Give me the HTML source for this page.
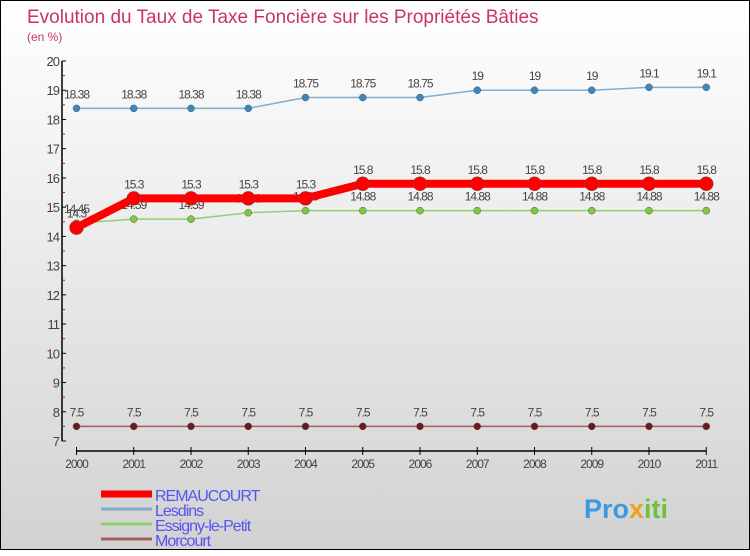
<!DOCTYPE html>
<html><head><meta charset="utf-8"><style>
body{margin:0;width:750px;height:550px;overflow:hidden;font-family:"Liberation Sans",sans-serif}
#frame{position:absolute;left:0;top:0;width:748px;height:548px;border:1px solid #000;background:linear-gradient(#ffffff,#d2d2d2)}
</style></head><body>
<div id="frame">
<svg id="chart" width="750" height="550">
<text x="26" y="22" font-size="19" fill="#c8336e">Evolution du Taux de Taxe Foncière sur les Propriétés Bâties</text>
<text x="26" y="40" font-size="12" fill="#c8336e">(en %)</text>
<g id="axes"></g><g id="series"></g><g id="legend"></g>
<text x="583" y="517" font-size="27" font-weight="bold" fill="#3a9be0">Pro<tspan fill="#f0a020">x</tspan><tspan fill="#70c040">iti</tspan></text>
</svg></div>
<script>
const years=["2000","2001","2002","2003","2004","2005","2006","2007","2008","2009","2010","2011"];
const yTicks=[7,8,9,10,11,12,13,14,15,16,17,18,19,20];
const remaucourt=[14.3,15.3,15.3,15.3,15.3,15.8,15.8,15.8,15.8,15.8,15.8,15.8];
const lesdins=[18.38,18.38,18.38,18.38,18.75,18.75,18.75,19,19,19,19.1,19.1];
const essigny=[14.45,14.59,14.59,14.81,14.88,14.88,14.88,14.88,14.88,14.88,14.88,14.88];
const morcourt=[7.5,7.5,7.5,7.5,7.5,7.5,7.5,7.5,7.5,7.5,7.5,7.5];
const seriesNames=["REMAUCOURT","Lesdins","Essigny-le-Petit","Morcourt"];
const NS="http://www.w3.org/2000/svg";
const X=i=>75.5+i*57.25, Y=v=>440-(v-7)*29.23;
function mk(tag,attrs,parent){const e=document.createElementNS(NS,tag);for(const k in attrs)e.setAttribute(k,attrs[k]);parent.appendChild(e);return e;}
const ax=document.getElementById('axes');
let e=mk('line',{x1:61,y1:Y(20),x2:61,y2:Y(7),stroke:'#000','stroke-width':1.5},ax);


yTicks.forEach(t=>{mk('line',{x1:61,x2:65,y1:Y(t),y2:Y(t),stroke:'#000'},ax);
 if(t<20)mk('line',{x1:61,x2:64,y1:Y(t+0.5),y2:Y(t+0.5),stroke:'#e00'},ax);
 const l=mk('text',{x:58,y:Y(t)+5,'font-size':13,fill:'#444','text-anchor':'end','letter-spacing':'-1'},ax);l.textContent=t;
 
 });
e=mk('line',{x1:X(0),y1:450,x2:X(11),y2:450,stroke:'#000','stroke-width':1.5},ax);


years.forEach((y,i)=>{mk('line',{x1:X(i),x2:X(i),y1:446,y2:454,stroke:'#000'},ax);
 const l=mk('text',{x:X(i),y:467,'font-size':12,fill:'#444','text-anchor':'middle','letter-spacing':'-1'},ax);l.textContent=y;
 
 });
const sg=document.getElementById('series');
function draw(data,name,color,lw,r,dot,fmt){
 const g=mk('g',{},sg);
 
 
 mk('polyline',{points:data.map((v,i)=>X(i)+','+Y(v)).join(' '),fill:'none',stroke:color,'stroke-width':lw},g);
 data.forEach((v,i)=>{const c=mk('circle',{cx:X(i),cy:Y(v),r:r,fill:dot,stroke:'#555','stroke-width':0.5},g);
  
  
  const t=mk('text',{x:X(i),y:Y(v)-10,'font-size':12,fill:'#444','text-anchor':'middle','letter-spacing':'-1'},g);t.textContent=String(v);});
}
draw(morcourt,'morcourt','#a06060',1.5,3.5,'#6a1a1a');
draw(essigny,'essigny','#90d070',1.5,3.5,'#80c840');
draw(lesdins,'lesdins','#80aed0',1.5,3.5,'#3a88c0');
draw(remaucourt,'remaucourt','#f00',8,7,'#f00');
const lg=document.getElementById('legend');
const cols=['#f00','#80aed0','#90d070','#a06060'],ws=[7,3,3,3];
seriesNames.forEach((n,i)=>{const y=493+i*15;
 mk('line',{x1:100,x2:151,y1:y,y2:y,stroke:cols[i],'stroke-width':ws[i]},lg);
 const t=mk('text',{x:154,y:y+7,'font-size':16,fill:'#5555ee','letter-spacing':'-1'},lg);t.textContent=n;
 
 });
</script></body></html>
